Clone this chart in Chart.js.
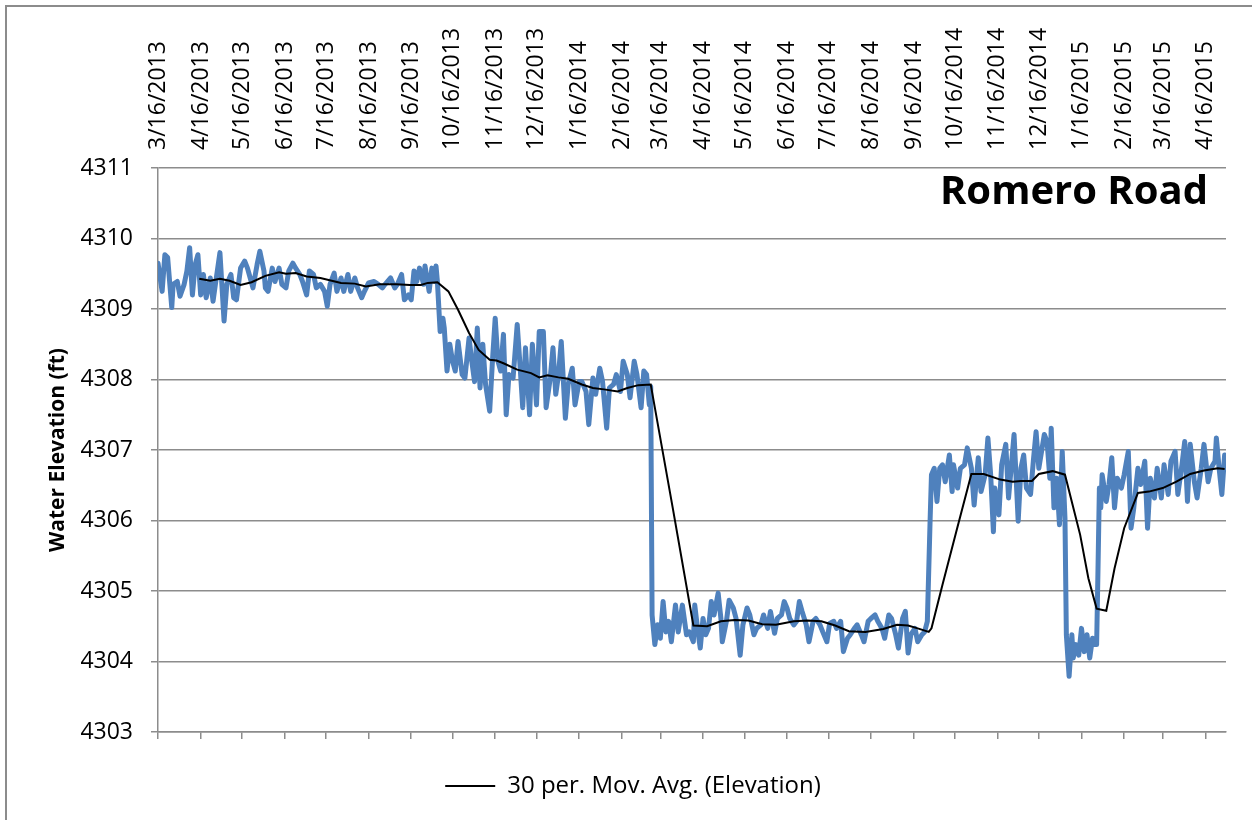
<!DOCTYPE html>
<html>
<head>
<meta charset="utf-8">
<script src="https://cdn.jsdelivr.net/npm/chart.js@4.4.1/dist/chart.umd.min.js"></script>
<style>
    body { margin: 0; background: #fff; }
    #frame { position: absolute; left: 5px; top: 5px; width: 1400px; height: 1000px; border: 2px solid #8c8c8c; z-index: 0; }
    #wrap { position: absolute; left: 0; top: 0; width: 1252px; height: 820px; z-index: 1; }
</style>
</head>
<body>
<div id="frame"></div>
<div id="wrap"><canvas id="chart" width="1252" height="820"></canvas></div>
<script>
const chartTitle = 'Romero Road';
const yTitle = 'Water Elevation (ft)';
const maLabel = '30 per. Mov. Avg. (Elevation)';

const tickLabels = [
    '3/16/2013', '4/16/2013', '5/16/2013', '6/16/2013', '7/16/2013', '8/16/2013', '9/16/2013',
    '10/16/2013', '11/16/2013', '12/16/2013', '1/16/2014', '2/16/2014', '3/16/2014', '4/16/2014',
    '5/16/2014', '6/16/2014', '7/16/2014', '8/16/2014', '9/16/2014', '10/16/2014', '11/16/2014',
    '12/16/2014', '1/16/2015', '2/16/2015', '3/16/2015', '4/16/2015'
];

// elevation readings, day = days since 3/16/2013
const obsDay = [
    0, 3, 5, 7, 10, 11, 14, 16, 19, 21, 23, 25, 27, 29, 31, 33, 35, 38, 40, 42,
    45, 48, 50, 53, 55, 57, 60, 63, 65, 67, 69, 72, 74, 77, 78, 80, 83, 85, 88, 90,
    93, 95, 98, 100, 103, 105, 108, 110, 113, 115, 118, 121, 123, 125, 128, 130, 133, 135, 138, 140,
    143, 145, 148, 150, 153, 157, 160, 163, 165, 169, 172, 174, 177, 179, 182, 184, 186, 188, 190, 193,
    194, 197, 199, 201, 202, 203, 205, 207, 208, 210, 212, 214, 216, 218, 221, 223, 226, 228, 230, 232,
    234, 236, 238, 241, 243, 245, 247, 249, 251, 253, 255, 258, 261, 263, 265, 267, 270, 272, 275, 277,
    280, 282, 285, 287, 289, 291, 293, 296, 298, 301, 303, 306, 308, 311, 313, 316, 318, 321, 323, 326,
    328, 331, 333, 336, 338, 341, 343, 346, 348, 351, 353, 355, 357, 358, 359, 361, 363, 365, 367, 369,
    371, 373, 376, 378, 381, 384, 386, 389, 390, 392, 394, 396, 398, 400, 402, 404, 407, 409, 410, 413,
    415, 418, 420, 423, 425, 428, 430, 433, 435, 438, 440, 443, 445, 448, 450, 453, 455, 457, 459, 462,
    464, 466, 468, 471, 473, 476, 478, 481, 483, 486, 488, 491, 493, 496, 498, 501, 503, 506, 508, 511,
    513, 516, 518, 521, 523, 526, 528, 531, 533, 536, 538, 541, 543, 545, 547, 550, 552, 555, 557, 559,
    561, 562, 564, 566, 568, 570, 572, 575, 577, 578, 581, 583, 586, 588, 591, 593, 596, 598, 601, 603,
    605, 607, 608, 611, 613, 616, 618, 622, 625, 627, 629, 631, 634, 636, 638, 640, 642, 644, 646, 648,
    649, 651, 653, 655, 657, 659, 660, 662, 664, 665, 667, 669, 671, 673, 675, 677, 679, 680, 682, 683,
    684, 685, 686, 689, 691, 693, 695, 697, 700, 702, 705, 707, 709, 712, 714, 717, 719, 721, 724, 726,
    729, 731, 734, 736, 739, 741, 744, 746, 748, 750, 753, 755, 758, 760, 763, 765, 768, 769, 771, 773,
    775
];
const elevation = [
    4309.65, 4309.25, 4309.77, 4309.73, 4309.02, 4309.35, 4309.39, 4309.18, 4309.35, 4309.54,
    4309.87, 4309.20, 4309.63, 4309.77, 4309.20, 4309.49, 4309.16, 4309.44, 4309.11, 4309.39,
    4309.80, 4308.83, 4309.35, 4309.49, 4309.16, 4309.13, 4309.58, 4309.68, 4309.58, 4309.44,
    4309.30, 4309.63, 4309.82, 4309.54, 4309.30, 4309.25, 4309.58, 4309.39, 4309.58, 4309.35,
    4309.30, 4309.54, 4309.65, 4309.58, 4309.49, 4309.39, 4309.20, 4309.54, 4309.49, 4309.30,
    4309.35, 4309.25, 4309.04, 4309.35, 4309.51, 4309.25, 4309.44, 4309.25, 4309.49, 4309.25,
    4309.44, 4309.30, 4309.16, 4309.25, 4309.37, 4309.39, 4309.35, 4309.30, 4309.35, 4309.44,
    4309.30, 4309.35, 4309.49, 4309.13, 4309.20, 4309.13, 4309.54, 4309.39, 4309.58, 4309.35,
    4309.61, 4309.25, 4309.58, 4309.39, 4309.61, 4309.39, 4308.68, 4308.87, 4308.73, 4308.12,
    4308.50, 4308.26, 4308.12, 4308.54, 4308.07, 4308.02, 4308.59, 4308.26, 4307.97, 4308.73,
    4307.88, 4308.50, 4307.93, 4307.55, 4308.26, 4308.87, 4308.26, 4308.12, 4308.64, 4307.50,
    4308.07, 4308.02, 4308.78, 4308.21, 4307.60, 4308.45, 4307.50, 4308.50, 4307.64, 4308.68,
    4308.68, 4307.60, 4308.02, 4308.45, 4307.79, 4308.07, 4308.54, 4307.45, 4307.93, 4308.16,
    4307.64, 4307.97, 4307.97, 4307.83, 4307.36, 4308.02, 4307.79, 4308.16, 4307.97, 4307.31,
    4307.88, 4307.93, 4308.07, 4307.83, 4308.26, 4308.07, 4307.74, 4308.26, 4308.07, 4307.60,
    4308.12, 4308.07, 4307.64, 4307.90, 4304.66, 4304.24, 4304.52, 4304.33, 4304.85, 4304.42,
    4304.57, 4304.28, 4304.80, 4304.42, 4304.80, 4304.38, 4304.42, 4304.28, 4304.80, 4304.47,
    4304.19, 4304.61, 4304.38, 4304.47, 4304.85, 4304.66, 4304.97, 4304.61, 4304.28, 4304.57,
    4304.87, 4304.76, 4304.61, 4304.09, 4304.52, 4304.76, 4304.66, 4304.38, 4304.47, 4304.52,
    4304.66, 4304.47, 4304.71, 4304.40, 4304.61, 4304.66, 4304.85, 4304.76, 4304.61, 4304.52,
    4304.57, 4304.85, 4304.71, 4304.52, 4304.28, 4304.57, 4304.61, 4304.52, 4304.42, 4304.28,
    4304.54, 4304.57, 4304.47, 4304.57, 4304.14, 4304.33, 4304.38, 4304.47, 4304.52, 4304.38,
    4304.28, 4304.57, 4304.61, 4304.66, 4304.57, 4304.47, 4304.33, 4304.66, 4304.61, 4304.38,
    4304.19, 4304.61, 4304.71, 4304.12, 4304.38, 4304.47, 4304.28, 4304.38, 4304.42, 4304.57,
    4306.00, 4306.65, 4306.74, 4306.27, 4306.74, 4306.79, 4306.55, 4306.93, 4306.41, 4306.79,
    4306.46, 4306.74, 4306.79, 4307.03, 4306.74, 4306.22, 4306.89, 4306.41, 4306.65, 4307.17,
    4306.65, 4305.84, 4306.46, 4306.08, 4306.79, 4307.08, 4306.32, 4307.22, 4305.99, 4306.74,
    4306.93, 4306.46, 4306.37, 4306.84, 4307.26, 4306.74, 4306.98, 4307.22, 4307.12, 4306.60,
    4307.31, 4306.18, 4306.60, 4305.94, 4306.98, 4306.03, 4304.38, 4303.79, 4304.38, 4304.05,
    4304.24, 4304.09, 4304.47, 4304.14, 4304.38, 4304.05, 4304.33, 4304.24, 4304.24, 4305.32,
    4306.46, 4306.18, 4306.65, 4306.27, 4306.51, 4306.89, 4306.18, 4306.60, 4306.46, 4306.65,
    4306.98, 4305.89, 4306.18, 4306.74, 4306.51, 4306.84, 4305.89, 4306.60, 4306.32, 4306.74,
    4306.32, 4306.79, 4306.37, 4306.84, 4306.98, 4306.37, 4306.79, 4307.12, 4306.27, 4307.08,
    4306.55, 4306.32, 4306.74, 4307.08, 4306.55, 4306.74, 4306.84, 4307.17, 4306.74, 4306.37,
    4306.93
];

// 30 period moving average trendline
const maDay = [
    30, 38, 45, 52, 60, 68, 78, 88, 93, 100, 108, 118, 133, 143, 151, 161, 173, 183, 191, 196,
    203, 211, 218, 226, 233, 241, 246, 251, 261, 271, 277, 283, 291, 298, 308, 316, 324, 334, 341, 349,
    358, 374, 389, 399, 409, 419, 429, 439, 449, 462, 472, 482, 492, 502, 514, 527, 537, 545, 552, 560,
    562, 570, 580, 591, 600, 612, 621, 627, 635, 640, 650, 659, 670, 676, 682, 689, 695, 702, 712, 720,
    730, 740, 750, 760, 770, 775
];
const maValue = [
    4309.43, 4309.40, 4309.43, 4309.40, 4309.34, 4309.38, 4309.47, 4309.52, 4309.50, 4309.51,
    4309.46, 4309.44, 4309.37, 4309.36, 4309.32, 4309.35, 4309.35, 4309.34, 4309.34, 4309.37,
    4309.38, 4309.25, 4308.99, 4308.66, 4308.42, 4308.28, 4308.27, 4308.23, 4308.14, 4308.09,
    4308.03, 4308.06, 4308.03, 4308.01, 4307.93, 4307.88, 4307.86, 4307.83, 4307.88, 4307.92,
    4307.93, 4306.18, 4304.51, 4304.50, 4304.57, 4304.59, 4304.58, 4304.53, 4304.52, 4304.57,
    4304.58, 4304.57, 4304.51, 4304.43, 4304.42, 4304.46, 4304.52, 4304.51, 4304.47, 4304.42,
    4304.47, 4305.09, 4305.84, 4306.66, 4306.66, 4306.58, 4306.55, 4306.56, 4306.56, 4306.66,
    4306.70, 4306.65, 4305.80, 4305.18, 4304.75, 4304.72, 4305.32, 4305.89, 4306.39, 4306.41,
    4306.46, 4306.55, 4306.66, 4306.71, 4306.74, 4306.73
];

const yMin = 4303;
const yMax = 4311;
const dayMax = 776;

// tick positions as days since the first label
const day0 = Date.UTC(2013, 2, 16);
const tickDays = tickLabels.map(s => {
    const p = s.split('/');
    return Math.round((Date.UTC(+p[2], +p[0] - 1, +p[1]) - day0) / 86400000);
});

const gray = '#8c8c8c';
Chart.defaults.font.family = "'Open Sans', sans-serif";
Chart.defaults.color = '#000';

const setMonthTicks = scale => {
    scale.ticks = tickDays.map(v => ({ value: v }));
};

const cornerTitle = {
    id: 'cornerTitle',
    afterDraw(chart) {
        const { ctx, chartArea } = chart;
        ctx.save();
        ctx.font = "bold 40px 'Open Sans'";
        ctx.fillStyle = '#000';
        ctx.textAlign = 'right';
        ctx.textBaseline = 'alphabetic';
        ctx.fillText(chartTitle, chartArea.right - 18, chartArea.top + 36);
        ctx.restore();
    }
};

new Chart(document.getElementById('chart'), {
    type: 'line',
    data: {
        datasets: [
            {
                label: 'Elevation',
                data: obsDay.map((d, i) => ({ x: d, y: elevation[i] })),
                borderColor: '#4f81bd',
                backgroundColor: '#4f81bd',
                borderWidth: 5,
                borderJoinStyle: 'round',
                borderCapStyle: 'round',
                pointRadius: 0,
                tension: 0,
                order: 2
            },
            {
                label: maLabel,
                data: maDay.map((d, i) => ({ x: d, y: maValue[i] })),
                borderColor: '#000',
                backgroundColor: '#000',
                borderWidth: 2,
                pointRadius: 0,
                tension: 0,
                order: 1
            }
        ]
    },
    options: {
        responsive: false,
        animation: false,
        devicePixelRatio: 1,
        layout: { padding: { left: 40, right: 26, top: 0, bottom: 12 } },
        plugins: {
            tooltip: { enabled: false },
            legend: {
                position: 'bottom',
                labels: {
                    filter: item => item.datasetIndex === 1,
                    boxWidth: 50,
                    boxHeight: 0,
                    padding: 10,
                    font: { size: 24 }
                }
            }
        },
        scales: {
            x: {
                type: 'linear',
                position: 'bottom',
                min: 0,
                max: dayMax,
                afterBuildTicks: setMonthTicks,
                afterFit: s => { s.height = 32; },
                ticks: { display: false },
                grid: { drawOnChartArea: false, drawTicks: true, tickLength: 7, color: gray, lineWidth: 1.5 },
                border: { color: gray, width: 1.5 }
            },
            x2: {
                type: 'linear',
                position: 'top',
                min: 0,
                max: dayMax,
                afterBuildTicks: setMonthTicks,
                afterFit: s => { s.height = 168; },
                ticks: {
                    autoSkip: false,
                    minRotation: 90,
                    maxRotation: 90,
                    padding: 18,
                    labelOffset: 28,
                    font: { size: 23 },
                    callback: (v, i) => tickLabels[i]
                },
                grid: { display: false, drawTicks: false },
                border: { display: false }
            },
            y: {
                min: yMin,
                max: yMax,
                afterFit: s => { s.width = 118; },
                ticks: {
                    stepSize: 1,
                    padding: 18,
                    font: { size: 23 },
                    callback: v => String(v)
                },
                title: {
                    display: true,
                    text: yTitle,
                    font: { size: 21, weight: 'bold' },
                    padding: { top: 5, bottom: 0 }
                },
                grid: { color: gray, lineWidth: 1.5, tickLength: 7 },
                border: { color: gray, width: 1.5 }
            }
        }
    },
    plugins: [cornerTitle]
});
</script>
</body>
</html>
